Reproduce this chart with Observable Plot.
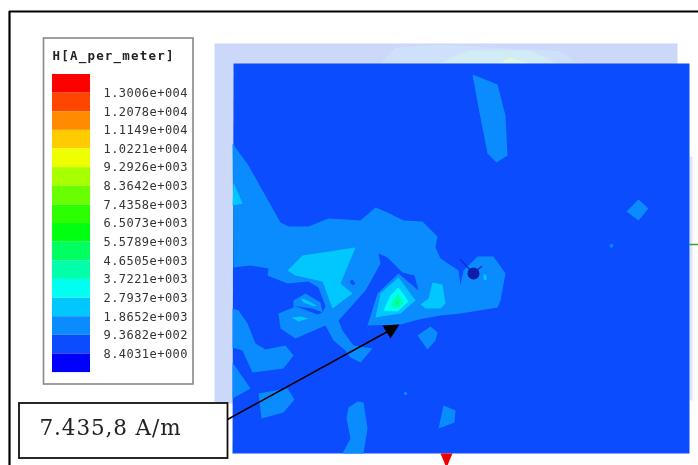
<!DOCTYPE html>
<html>
<head>
<meta charset="utf-8">
<script src="https://cdn.jsdelivr.net/npm/d3@7"></script>
<script src="https://cdn.jsdelivr.net/npm/@observablehq/plot@0.6"></script>
<style>
html,body{margin:0;padding:0;background:#fff;overflow:hidden}
.ticks text{letter-spacing:.45px}
.ttl text{letter-spacing:1.2px}
.ann text{letter-spacing:.9px}
</style>
</head>
<body>
<div id="chart"></div>
<script>
const legendTitle = "H[A_per_meter]";
const legendValues = ["1.3006e+004","1.2078e+004","1.1149e+004","1.0221e+004","9.2926e+003","8.3642e+003","7.4358e+003","6.5073e+003","5.5789e+003","4.6505e+003","3.7221e+003","2.7937e+003","1.8652e+003","9.3682e+002","8.4031e+000"];
const bandColors = ["#ff0000","#ff4600","#ff8c00","#ffcc00","#eeff00","#a8ff00","#6aff00","#2cff00","#00ff10","#00ff60","#00ffa8","#00fff0","#00c8ff","#0a8cff","#0c4cff","#0000ff"];
const annotation = "7.435,8 A/m";

// contour outlines (field level = legend band index)
const paleSheet = [[214,43],[677,43],[677,70],[233,70],[233,403],[214,403]];
const paleGlow1 = [[380,63],[395,47],[440,44],[560,51],[578,63]];
const paleGlow2 = [[438,63],[468,50],[530,50],[556,63]];
const paleGlow3 = [[498,63],[510,57],[528,63]];
const paleRight = [[689,156],[692,156],[692,400],[689,400]];
const plate = [[233,63],[689,63],[689,453],[232,453]];
const mainLobe = [[232,143],[248,165],[262,190],[280,222],[288,226],[308,226],[328,218],[345,219],[360,220],[375,207],[387,212],[403,220],[422,221],[437,236],[435,247],[440,258],[458,270],[460,285],[463,270],[477,256],[493,256],[505,273],[500,300],[497,307],[460,313],[440,315],[418,319],[400,324],[367,325],[372,348],[360,362],[350,357],[345,350],[333,340],[325,325],[295,338],[280,328],[278,313],[293,307],[293,300],[305,293],[320,302],[322,312],[325,306],[318,287],[308,281],[287,283],[267,275],[268,268],[250,265],[233,267]];
const pocket = [[378,253],[387,257],[402,272],[414,275],[418,290],[398,273],[377,293],[367,325],[372,348],[353,345],[342,330],[338,320],[365,290],[380,263]];
const lobeGap = [[293,305],[312,308],[322,312],[317,314]];
const speckDark = [[349,281],[352,279],[355,283],[352,285]];
const topBlob = [[472,74],[497,84],[505,115],[507,155],[496,162],[487,153],[478,107]];
const diamond = [[626,211],[638,199],[648,208],[638,220]];
const dotRight = [[609,245],[611,243],[613,245],[611,248]];
const dotLow = [[403,393],[405,391],[407,393],[405,395]];
const leftBlob = [[232,308],[238,310],[247,323],[255,343],[265,349],[285,345],[293,355],[283,368],[252,372],[242,350],[232,347]];
const leftWedge = [[232,362],[250,388],[232,398]];
const squareBlob = [[258,393],[287,388],[294,399],[283,412],[261,418]];
const tallBlob = [[357,401],[363,402],[367,428],[363,453],[342,453],[350,438],[346,418],[348,407]];
const rightBlob = [[443,405],[455,410],[454,422],[438,428]];
const underBlob = [[417,335],[430,326],[437,332],[435,340],[427,349]];
const edgeSpot = [[233,182],[242,203],[232,205]];
const skyArm = [[287,270],[302,255],[355,247],[340,283],[352,293],[332,308],[322,281],[295,275]];
const skyRight = [[432,282],[442,284],[445,303],[440,308],[425,308],[420,304],[428,298]];
const skyPeak = [[375,317],[380,293],[398,277],[415,300],[400,313]];
const cyanPeak = [[383,310],[390,295],[398,287],[408,301],[397,311]];
const aquaPeak = [[390,305],[397,293],[403,303],[396,308]];
const greenPeak = [[395,302],[397,300],[399,302],[397,304]];
const skyStreak1 = [[300,298],[305,299],[316,305],[314,306],[303,302]];
const skyStreak2 = [[291,317],[300,316],[308,318],[298,321]];
const skySpeck = [[483,273],[486,275],[486,280],[483,279]];

const band = {sheet:14, lobe:13, sky:12, cyan:11, aqua:10, green:9};
const contours = [
  [plate,band.sheet],[mainLobe,band.lobe],[pocket,band.sheet],[lobeGap,band.sheet],[speckDark,band.sheet],
  [topBlob,band.lobe],[diamond,band.lobe],[dotRight,band.lobe],[dotLow,band.lobe],[leftBlob,band.lobe],[leftWedge,band.lobe],
  [squareBlob,band.lobe],[tallBlob,band.lobe],[rightBlob,band.lobe],[underBlob,band.lobe],
  [edgeSpot,band.sky],[skyArm,band.sky],[skyRight,band.sky],[skyPeak,band.sky],[skyStreak1,band.sky],[skyStreak2,band.sky],[skySpeck,band.sky],
  [cyanPeak,band.cyan],[aquaPeak,band.aqua],[greenPeak,band.green]
];
const contourRows = contours.flatMap(([pts,level],id)=>pts.map(([x,y])=>({x,y,id,level})));
const paleShape = (pts,fill)=>Plot.line(pts,{x:d=>d[0],y:d=>d[1],fill,stroke:null,curve:"linear-closed"});

const legendBox = {x1:43.5,x2:193,y1:38,y2:384};
const swatchTop = 74, swatchStep = 18.63;
const swatches = bandColors.map((c,i)=>({i,y1:swatchTop+i*swatchStep,y2:swatchTop+(i+1)*swatchStep}));
const ticks = legendValues.map((v,i)=>({v,y:swatchTop+(i+1)*swatchStep}));

const frameX = 9, frameY = 11;
const arrowLine = [[227,419],[389,330]];
const arrowHead = [[382,325],[399,324],[390,338]];
const greenStub = [[689,244],[698,244]];
const redArrow = [[440,453],[452,453],[449,460],[447,465],[445,465],[443,460]];
const probeDot = [[473,273]];
const probeTail = [[460,259],[471,271]];
const probeEar = [[476,270],[481,266]];

const chart = Plot.plot({
  width:698, height:465, margin:0,
  x:{domain:[0,698],range:[0,698],axis:null},
  y:{domain:[0,465],range:[0,465],axis:null},
  color:{type:"ordinal",domain:d3.range(bandColors.length),range:bandColors},
  style:{background:"#fff",filter:"blur(0.7px)"},
  marks:[
    paleShape(paleSheet,"#ccd8fa"),
    paleShape(paleGlow1,"#cfe0fa"),
    paleShape(paleGlow2,"#d2ecf6"),
    paleShape(paleGlow3,"#e0f6e0"),
    paleShape(paleRight,"#dde4fc"),
    Plot.line(contourRows,{x:"x",y:"y",z:"id",fill:"level",stroke:null,curve:"linear-closed"}),
    Plot.line(probeTail,{x:d=>d[0],y:d=>d[1],stroke:"#1030d8",strokeWidth:1.5}),
    Plot.line(probeEar,{x:d=>d[0],y:d=>d[1],stroke:"#1030c8",strokeWidth:1.5}),
    Plot.dot(probeDot,{x:d=>d[0],y:d=>d[1],r:6,fill:"#0a1ca8",stroke:null}),
    Plot.line(greenStub,{x:d=>d[0],y:d=>d[1],stroke:"#3c9c3c",strokeWidth:1.5}),
    paleShape(redArrow,"#ee0000"),
    Plot.rect([legendBox],{x1:"x1",x2:"x2",y1:"y1",y2:"y2",fill:"#fff",stroke:"#888",strokeWidth:1.6}),
    Plot.rect(swatches,{x1:()=>52,x2:()=>90,y1:"y1",y2:"y2",fill:"i",stroke:null}),
    Plot.text([legendTitle],{x:()=>52,y:()=>55,text:d=>d,textAnchor:"start",fontFamily:"DejaVu Sans Mono",fontWeight:"bold",fontSize:12.5,fill:"#222",className:"ttl"}),
    Plot.text(ticks,{x:()=>103,y:"y",text:"v",textAnchor:"start",fontFamily:"DejaVu Sans Mono",fontSize:12,fill:"#333",className:"ticks"}),
    Plot.line(arrowLine,{x:d=>d[0],y:d=>d[1],stroke:"#000",strokeWidth:1.6}),
    paleShape(arrowHead,"#000"),
    Plot.rect([{x1:19,x2:227.5,y1:403,y2:458}],{x1:"x1",x2:"x2",y1:"y1",y2:"y2",fill:"#fff",stroke:"#111",strokeWidth:1.8}),
    Plot.text([annotation],{x:()=>39,y:()=>428,text:d=>d,textAnchor:"start",fontFamily:"DejaVu Serif",fontSize:21.5,fill:"#222",className:"ann"}),
    Plot.ruleX([frameX],{y1:()=>frameY,y2:()=>465,stroke:"#000",strokeWidth:2.2}),
    Plot.ruleY([frameY],{x1:()=>frameX,x2:()=>698,stroke:"#000",strokeWidth:2.2})
  ]
});
document.getElementById("chart").appendChild(chart);
</script>
</body>
</html>
